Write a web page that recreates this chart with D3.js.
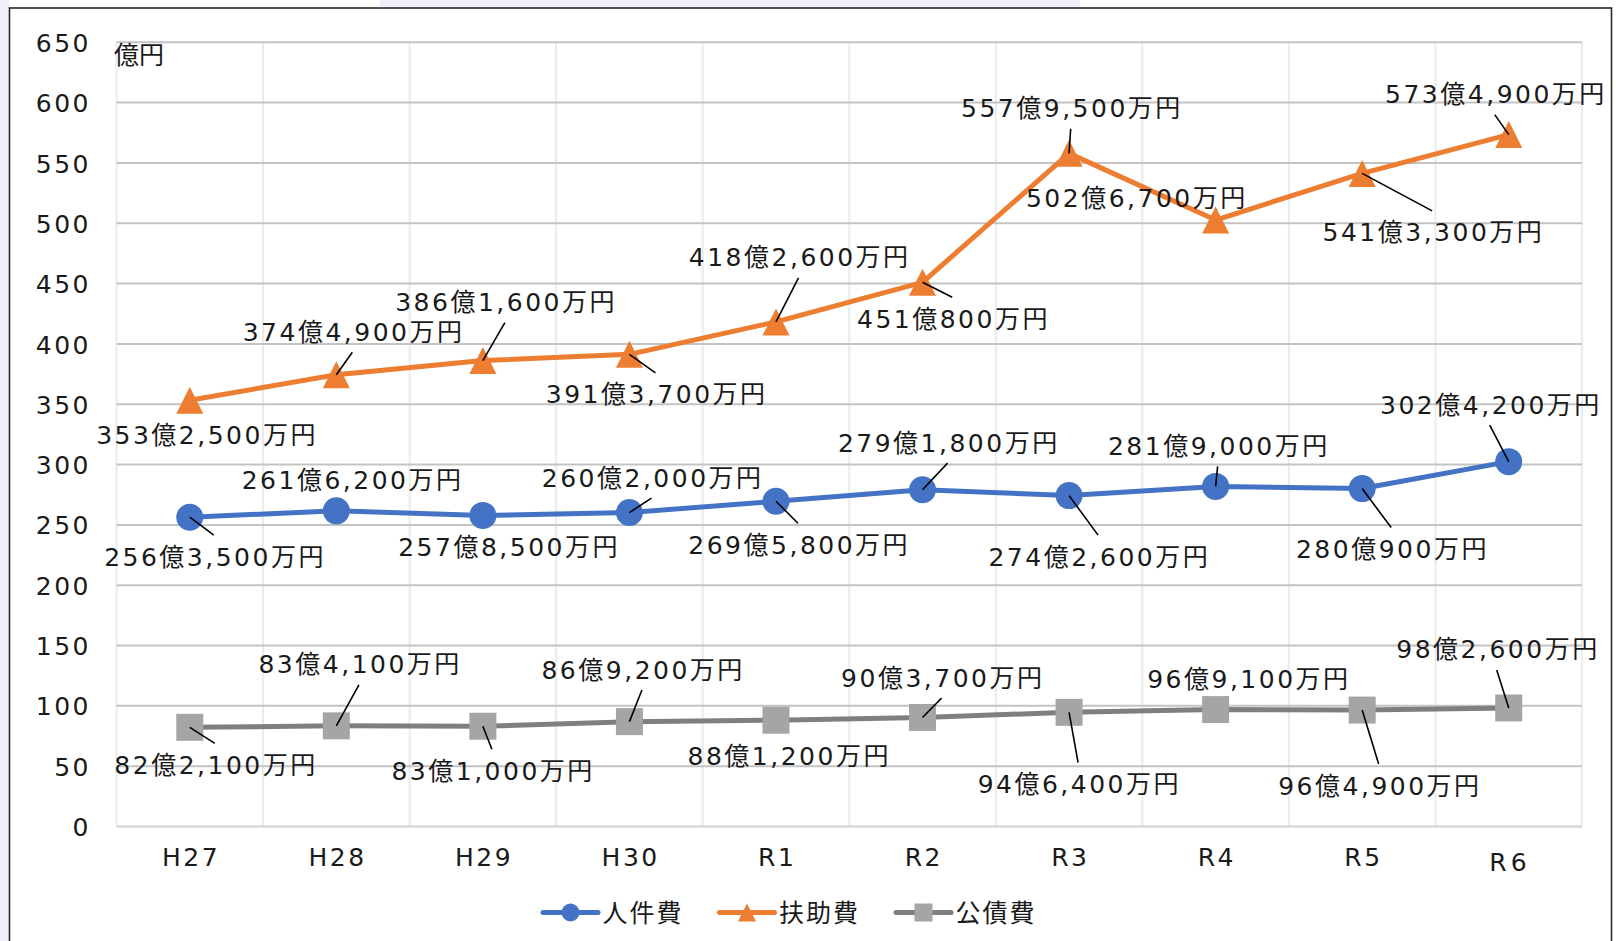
<!DOCTYPE html>
<html>
<head>
<meta charset="utf-8">
<script src="https://cdn.jsdelivr.net/npm/d3@7"></script>
<style>
  html, body { margin: 0; padding: 0; background: #ffffff; }
  svg { display: block; }
</style>
</head>
<body>
<svg id="chart" width="1616" height="941"></svg>
<script>
// ---- data ----
const categories = ["H27", "H28", "H29", "H30", "R1", "R2", "R3", "R4", "R5", "R6"];
const personnel  = [256.35, 261.62, 257.85, 260.20, 269.58, 279.18, 274.26, 281.90, 280.09, 302.42]; // 人件費 (億円)
const assistance = [353.25, 374.49, 386.16, 391.37, 418.26, 451.08, 557.95, 502.67, 541.33, 573.49]; // 扶助費 (億円)
const debt       = [82.21, 83.41, 83.10, 86.92, 88.12, 90.37, 94.64, 96.91, 96.49, 98.26];           // 公債費 (億円)
const seriesNames = ["人件費", "扶助費", "公債費"];
const yTicks = [0, 50, 100, 150, 200, 250, 300, 350, 400, 450, 500, 550, 600, 650];
const yUnit = "億円";

// ---- layout (label placement relative to each point: dx, dy, leader line?) ----
const personnelLabelPos  = [[24,39,1],[15,-31,0],[25,31,0],[22,-35.5,1],[22,43,1],[25,-47.6,1],[29,60.5,1],[2,-41,1],[29,60,1],[-19,-57.5,1]];
const assistanceLabelPos = [[16,34,0],[16,-43.5,1],[22,-59,1],[26,39.5,1],[22.5,-65,1],[29.7,36,1],[1.6,-45.6,1],[-80,-22.3,0],[70,58.5,1],[-14,-41,1]];
const debtLabelPos       = [[25,37,1],[22.6,-62,1],[9,44,1],[12.5,-52.6,1],[12,35.4,0],[19,-40.4,1],[9,71.4,1],[32,-31.5,0],[16.5,75,1],[-12,-59,1]];
const xLabelShiftY = [0, 0, 0, 0, 0, 0, 0, 0, 0, 5];

const W = 1616, H = 941;
const plot = { left: 116.5, right: 1582, top: 42.3, bottom: 826.5 };
const FONT = "'DejaVu Sans', 'Noto Sans CJK JP', sans-serif";
const FS = 25;

const svg = d3.select("#chart");

// background & frame
svg.append("rect").attr("x", 0).attr("y", 0).attr("width", W).attr("height", H).attr("fill", "#ffffff");
svg.append("rect").attr("x", 0).attr("y", 0).attr("width", 9).attr("height", H).attr("fill", "#f1edf9");
svg.append("rect").attr("x", 380).attr("y", 0).attr("width", 700).attr("height", 7).attr("fill", "#f1edf9");
svg.append("rect").attr("x", 9.5).attr("y", 8).attr("width", 1602).attr("height", 1000)
  .attr("fill", "#ffffff").attr("stroke", "#2a2a2a").attr("stroke-width", 1.6);

const x = d3.scaleBand().domain(categories).range([plot.left, plot.right]).paddingInner(0).paddingOuter(0);
const y = d3.scaleLinear().domain([0, 650]).range([plot.bottom, plot.top]);
const cx = c => x(c) + x.bandwidth() / 2;

// vertical gridlines at category boundaries
const bounds = categories.map(c => x(c)).concat([plot.right]);
svg.append("g").selectAll("line").data(bounds).join("line")
  .attr("x1", d => d).attr("x2", d => d)
  .attr("y1", plot.top).attr("y2", plot.bottom)
  .attr("stroke", "#ebebeb").attr("stroke-width", 2);

// horizontal gridlines
svg.append("g").selectAll("line").data(yTicks.filter(t => t > 0)).join("line")
  .attr("x1", plot.left).attr("x2", plot.right)
  .attr("y1", d => y(d)).attr("y2", d => y(d))
  .attr("stroke", "#c3c3c3").attr("stroke-width", 2);
// baseline
svg.append("line").attr("x1", plot.left).attr("x2", plot.right)
  .attr("y1", y(0)).attr("y2", y(0)).attr("stroke", "#d9d9d9").attr("stroke-width", 2.5);

// y axis labels (via d3 axis, styled)
const yAxis = d3.axisLeft(y).tickValues(yTicks).tickSize(0).tickPadding(0);
const gy = svg.append("g").attr("transform", "translate(91,0)").call(yAxis);
gy.select(".domain").remove();
gy.selectAll("text")
  .attr("font-family", FONT).attr("font-size", FS).attr("fill", "#1a1a1a")
  .attr("letter-spacing", 2.5).attr("dy", null).attr("y", 0)
  .attr("transform", "translate(0,9.1)");

// x axis labels
const xAxis = d3.axisBottom(x).tickSize(0).tickPadding(0);
const gx = svg.append("g").attr("transform", `translate(0,${plot.bottom})`).call(xAxis);
gx.select(".domain").remove();
gx.selectAll("text")
  .attr("font-family", FONT).attr("font-size", FS).attr("fill", "#1a1a1a")
  .attr("letter-spacing", (d, i) => i === categories.length - 1 ? 4 : 2.5)
  .attr("dy", null)
  .attr("y", (d, i) => 39.5 + xLabelShiftY[i])
  .attr("dx", 1.25);

// unit label
svg.append("text").attr("x", 114).attr("y", 63.5)
  .attr("font-family", FONT).attr("font-size", FS).attr("fill", "#1a1a1a")
  .text(yUnit);

// ---- series ----
const series = [
  { name: seriesNames[0], values: personnel,  pos: personnelLabelPos,  line: "#4472c4", fill: "#4472c4", shape: "circle" },
  { name: seriesNames[1], values: assistance, pos: assistanceLabelPos, line: "#ed7d31", fill: "#ed7d31", shape: "triangle" },
  { name: seriesNames[2], values: debt,       pos: debtLabelPos,       line: "#7f7f7f", fill: "#a5a5a5", shape: "square" }
];

function markerPath(shape, s) {
  const h = s / 2;
  if (shape === "circle") return d3.arc()({ innerRadius: 0, outerRadius: h, startAngle: 0, endAngle: 2 * Math.PI });
  if (shape === "triangle") return `M0,${-h}L${h},${h}L${-h},${h}Z`;
  return `M${-h},${-h}H${h}V${h}H${-h}Z`;
}

const lineGen = d3.line().x(d => cx(d.c)).y(d => y(d.v));

series.forEach(s => {
  const pts = categories.map((c, i) => ({ c, v: s.values[i] }));
  svg.append("path").datum(pts).attr("d", lineGen)
    .attr("fill", "none").attr("stroke", s.line).attr("stroke-width", 5)
    .attr("stroke-linejoin", "round").attr("stroke-linecap", "round");
  svg.append("g").selectAll("path").data(pts).join("path")
    .attr("transform", d => `translate(${cx(d.c)},${y(d.v)})`)
    .attr("d", markerPath(s.shape, 27))
    .attr("fill", s.fill);
});

// ---- data labels with leader lines ----
function fmt(v) {
  const total = Math.round(v * 10000);
  const oku = Math.floor(total / 10000);
  const man = total % 10000;
  return oku + "億" + (man ? d3.format(",")(man) + "万円" : "円");
}

const labelG = svg.append("g");
series.forEach(s => {
  categories.forEach((c, i) => {
    const px = cx(c), py = y(s.values[i]);
    const [dx, dy, leader] = s.pos[i];
    const lx = px + dx, ly = py + dy;
    if (leader) {
      const ay = dy > 0 ? ly - 21 : ly + 21;
      labelG.append("line").attr("x1", px).attr("y1", py).attr("x2", lx).attr("y2", ay)
        .attr("stroke", "#000").attr("stroke-width", 1.6);
    }
    labelG.append("text").attr("x", lx + 1.25).attr("y", ly + 9.5)
      .attr("text-anchor", "middle")
      .attr("font-family", FONT).attr("font-size", FS).attr("fill", "#1a1a1a")
      .attr("letter-spacing", 2.5)
      .text(fmt(s.values[i]));
  });
});

// ---- legend ----
const legend = svg.append("g");
const legX0 = 543, legStep = 176.5, legY = 912.5;
series.forEach((s, i) => {
  const gx0 = legX0 + i * legStep;
  legend.append("line").attr("x1", gx0).attr("x2", gx0 + 55).attr("y1", legY).attr("y2", legY)
    .attr("stroke", s.line).attr("stroke-width", 5).attr("stroke-linecap", "round");
  legend.append("path").attr("transform", `translate(${gx0 + 27.5},${legY})`)
    .attr("d", markerPath(s.shape, 18)).attr("fill", s.fill);
  legend.append("text").attr("x", gx0 + 59.5).attr("y", legY + 9.5)
    .attr("font-family", FONT).attr("font-size", FS).attr("fill", "#1a1a1a")
    .attr("letter-spacing", 2)
    .text(s.name);
});
</script>
</body>
</html>
